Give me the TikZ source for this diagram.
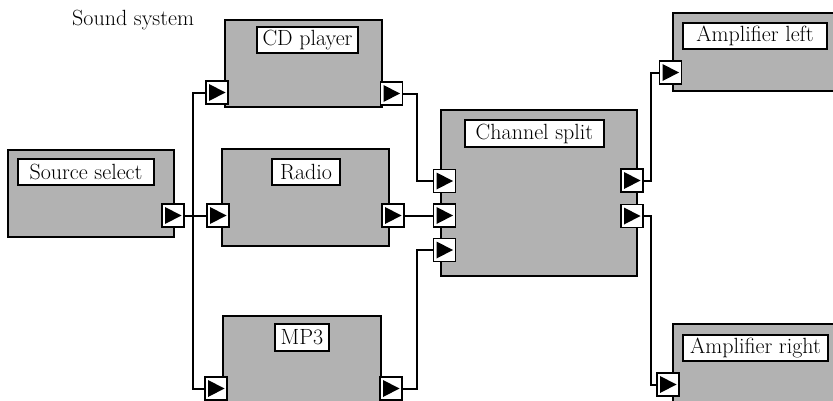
\documentclass[tikz,border=0pt]{standalone}
\usepackage{fontspec}
\begin{document}
\begin{tikzpicture}[x=1pt,y=-1pt,
  blockbox/.style={draw, fill=black!30, line width=1.5pt, inner sep=0pt},
  lbl/.style={draw, fill=white, line width=1.8pt, inner sep=0pt, font=\fontsize{22}{26}\selectfont},
  port/.style={draw, fill=white, line width=1.3pt, minimum width=22pt, minimum height=23pt, inner sep=0pt,
    path picture={\fill[black] ([xshift=3pt,yshift=-3pt]path picture bounding box.north west)
      -- ([xshift=-2.5pt]path picture bounding box.east)
      -- ([xshift=3pt,yshift=3pt]path picture bounding box.south west) -- cycle;}},
  wire/.style={draw, line width=2pt}]
\clip (0,0) rectangle (833,400);

\node[anchor=base west, inner sep=0pt, font=\fontsize{22}{26}\selectfont] (title) at (72,25) {Sound system};

% blocks
\node[blockbox, minimum width=166pt, minimum height=87pt] (src) at (91,193.5) {};
\node[blockbox, minimum width=157pt, minimum height=87pt] (cd) at (303.5,63.5) {};
\node[blockbox, minimum width=167pt, minimum height=97pt] (radio) at (305.5,197.5) {};
\node[blockbox, minimum width=158pt, minimum height=100pt] (mp3) at (302,366) {};
\node[blockbox, minimum width=196pt, minimum height=166pt] (split) at (539,193) {};
\node[blockbox, minimum width=170pt, minimum height=78pt] (ampL) at (758,52) {};
\node[blockbox, minimum width=170pt, minimum height=100pt] (ampR) at (758,374) {};

% labels
\node[lbl, minimum width=136pt, minimum height=26pt] (srcL) at (86,172) {Source select};
\node[lbl, minimum width=101pt, minimum height=26pt] (cdL) at (307.5,40) {CD player};
\node[lbl, minimum width=68pt, minimum height=26pt] (radioL) at (306,172) {Radio};
\node[lbl, minimum width=54pt, minimum height=27pt] (mp3L) at (302,337.5) {MP3};
\node[lbl, minimum width=139pt, minimum height=27pt] (splitL) at (534.5,133.5) {Channel split};
\node[lbl, minimum width=144pt, minimum height=26pt] (ampLL) at (755,36) {Amplifier left};
\node[lbl, minimum width=145pt, minimum height=26pt] (ampRL) at (755.5,348) {Amplifier right};

% junction coordinates
\coordinate (busA) at (193,215.5);
\coordinate (busB1) at (417,181);
\coordinate (busB2) at (417,250);
\coordinate (busC1) at (651,72.5);
\coordinate (busC2) at (651,384.5);

% ports
\node[port] (srcOut) at (173,215.5) {};
\node[port] (cdIn) at (217,92.5) {};
\node[port] (cdOut) at (391.5,93.5) {};
\node[port] (radIn) at (218,215.5) {};
\node[port] (radOut) at (393,215.5) {};
\node[port] (mp3In) at (216,388.5) {};
\node[port] (mp3Out) at (391,388.5) {};
\node[port] (spIn1) at (444.5,181) {};
\node[port] (spIn2) at (444.5,215.5) {};
\node[port] (spIn3) at (444.5,250) {};
\node[port] (spOut1) at (632,180.5) {};
\node[port] (spOut2) at (632,216) {};
\node[port] (ampLIn) at (670.5,72.5) {};
\node[port] (ampRIn) at (668,384.5) {};

% wires
\draw[wire] (srcOut.east) -- (radIn.west);
\draw[wire] (cdIn.west) -| (busA) |- (mp3In.west);
\draw[wire] (cdOut.east) -| (busB1) |- (spIn1.west);
\draw[wire] (radOut.east) -- (spIn2.west);
\draw[wire] (mp3Out.east) -| (busB2) |- (spIn3.west);
\draw[wire] (spOut1.east) -| (busC1) |- (ampLIn.west);
\draw[wire] (spOut2.east) -| (busC2) |- (ampRIn.west);
\end{tikzpicture}
\end{document}
